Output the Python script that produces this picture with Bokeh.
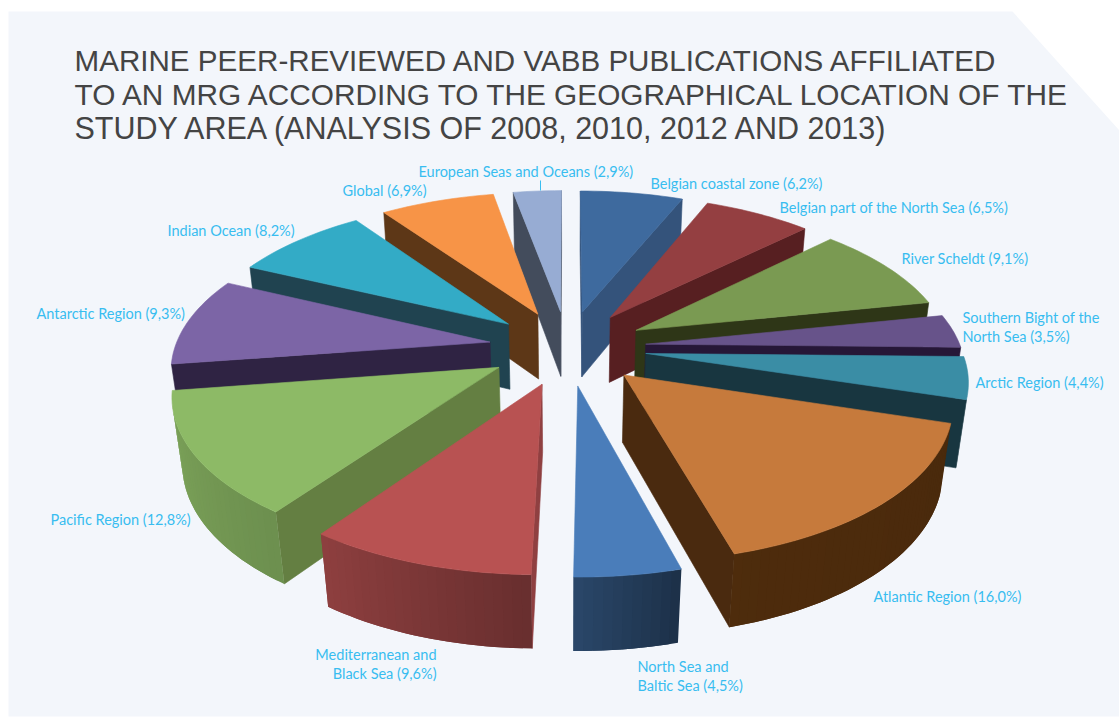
import numpy as np
from bokeh.plotting import figure
from bokeh.models import ColumnDataSource
from bokeh.core.properties import value
from bokeh.embed import file_html
from bokeh.resources import INLINE

# ---- data ----
title_lines = [
    "MARINE PEER-REVIEWED AND VABB PUBLICATIONS AFFILIATED",
    "TO AN MRG ACCORDING TO THE GEOGRAPHICAL LOCATION OF THE",
    "STUDY AREA (ANALYSIS OF 2008, 2010, 2012 AND 2013)",
]
regions = [
    "Belgian coastal zone", "Belgian part of the North Sea", "River Scheldt",
    "Southern Bight of the North Sea", "Arctic Region", "Atlantic Region",
    "North Sea and Baltic Sea", "Mediterranean and Black Sea", "Pacific Region",
    "Antarctic Region", "Indian Ocean", "Global", "European Seas and Oceans",
]
shares = [6.2, 6.5, 9.1, 3.5, 4.4, 16.0, 4.5, 9.6, 12.8, 9.3, 8.2, 6.9, 2.9]

# ---- styles ----
top_colors = ["#3E6A9E", "#943F41", "#7A9A52", "#67538A", "#3A8DA5", "#C67A3C", "#4A7DBA",
              "#B85252", "#8DBA66", "#7C65A6", "#33ABC6", "#F79447", "#97ACD3"]
side_colors = ["#34537B", "#571F21", "#2E3617", "#261737", "#183640", "#4A2A0F", "#2F4A70",
               "#8F4041", "#647F42", "#2F2343", "#204350", "#5D3717", "#434C5C"]
rim_colors = ["#3E6A9E", "#943F41", "#7A9A52", "#67538A", "#3A8DA5", "#C7701F", "#4A7DBA",
              "#B85252", "#8DBA66", "#7C65A6", "#33ABC6", "#F79447", "#97ACD3"]
title_sizes = ["29.6px", "29.8px", "30.5px"]
# label line breaks and anchors (page pixels: x, y, align)
label_layout = [
    (["{}"], 650, 183, "left"),
    (["{}"], 779, 207, "left"),
    (["{}"], 901, 258, "left"),
    (["Southern Bight of the", "North Sea ({})"], 962, 317, "left"),
    (["{}"], 975, 382, "left"),
    (["{}"], 873, 596, "left"),
    (["North Sea and", "Baltic Sea ({})"], 637, 666, "left"),
    (["Mediterranean and", "Black Sea ({})"], 436, 654, "right"),
    (["{}"], 50, 519, "left"),
    (["{}"], 36, 313, "left"),
    (["{}"], 167, 230, "left"),
    (["{}"], 342, 190, "left"),
    (["{}"], 418, 171, "left"),
]
LABEL_FONT = "Lato"
LABEL_SIZE = "14.5px"
LABEL_COLOR = "#38BDF0"
LINE_STEP = 19

# ---- 3-D camera ----
CX, CY = 567.0, 347.0
SX, A, B = 315.0, 186.6, 0.1886
EXPLODE, NORM = 0.25, 1.25
DELTA, H = 0.0256, 67.8


def project(X, Y, bottom=False):
    u = -Y / NORM
    w = 1 - B * u
    if bottom:
        d = w + DELTA
        return CX + SX * X / d, CY + (A * u + H) / d
    return CX + SX * X / w, CY + A * u / w


def shade(hex_color, f):
    rgb = [int(hex_color[i:i + 2], 16) for i in (1, 3, 5)]
    return "#%02X%02X%02X" % tuple(int(round(min(255, c * f))) for c in rgb)


def area(xs, ys):
    xs, ys = np.asarray(xs), np.asarray(ys)
    return 0.5 * np.sum(xs * np.roll(ys, -1) - np.roll(xs, -1) * ys)


def light(theta):
    return np.interp(theta, [107, 165, 180, 215, 261, 360], [0.37, 0.39, 0.56, 0.77, 0.88, 0.88])


fractions = np.array(shares) / sum(shares)
ends = np.cumsum(fractions) * 360
starts = ends - fractions * 360
order = np.argsort(-np.cos(np.radians((starts + ends) / 2)), kind="stable")

pxs, pys, cols, stroke = [], [], [], []


def add(xs, ys, c, la=1.0):
    pxs.append(list(map(float, xs)))
    pys.append(list(map(float, ys)))
    cols.append(c)
    stroke.append(la)


for i in order:
    a0, a1 = starts[i], ends[i]
    mid = np.radians((a0 + a1) / 2)
    ox, oy = EXPLODE * np.sin(mid), EXPLODE * np.cos(mid)
    th = np.linspace(a0, a1, max(3, int((a1 - a0) / 1.5) + 2))
    rad = np.radians(th)
    X = ox + np.sin(rad)
    Y = oy + np.cos(rad)

    tx, ty = project(np.r_[ox, X], np.r_[oy, Y])
    bx, by = project(np.r_[ox, X], np.r_[oy, Y], bottom=True)
    orient = np.sign(area(tx, ty))
    n = len(tx)
    # radial sides and rim: only the faces turned towards the camera
    for j0, j1, kind in [(0, 1, "s"), (n - 1, 0, "s")] + [(k, k + 1, "r") for k in range(1, n - 1)]:
        qx = [tx[j0], tx[j1], bx[j1], bx[j0]]
        qy = [ty[j0], ty[j1], by[j1], by[j0]]
        if np.sign(area(qx, qy)) == orient:
            continue
        if kind == "s":
            add(qx, qy, side_colors[i])
        else:
            # each rim strip runs under the next one, so that no seam shows
            j2 = min(j1 + 1, n - 1)
            ex = [tx[j0], tx[j1], tx[j2], bx[j2], bx[j1], bx[j0]]
            ey = [ty[j0], ty[j1], ty[j2], by[j2], by[j1], by[j0]]
            add(ex, ey, shade(rim_colors[i], light((th[j0 - 1] + th[j1 - 1]) / 2)), 0.0)
    add(tx, ty, top_colors[i])

# ---- figure in page pixels ----
p = figure(width=1119, height=718, x_range=(0, 1119), y_range=(718, 0),
           output_backend="svg", toolbar_location=None, min_border=0,
           background_fill_color="white", border_fill_color="white", outline_line_color=None)
p.axis.visible = False
p.grid.visible = False

p.patch([8, 1012, 1119, 1119, 8], [11, 11, 130, 716, 716], fill_color="#F3F6FB", line_color=None)

src = ColumnDataSource(dict(xs=pxs, ys=pys, c=cols, la=stroke))
p.patches("xs", "ys", source=src, fill_color="c", line_color="c", line_alpha="la", line_width=0.6)

# leader of the European Seas label
p.segment([540], [180], [540], [190], line_color=LABEL_COLOR, line_width=1)

# title
for k, (t, size) in enumerate(zip(title_lines, title_sizes)):
    p.text([74], [59.5 + 34 * k], text=[t], text_font=value("Liberation Sans"), text_font_size=size,
           text_color="#444444", text_baseline="alphabetic", text_align="left")

# labels
for name, v, (lines, x, y, al) in zip(regions, shares, label_layout):
    pct = f"{v:.1f}".replace(".", ",") + "%"
    for k, ln in enumerate(lines):
        s = f"{name} ({pct})" if ln == "{}" else ln.format(pct)
        p.text([x], [y + LINE_STEP * k], text=[s], text_font=value(LABEL_FONT), text_font_size=LABEL_SIZE,
               text_color=LABEL_COLOR, text_baseline="alphabetic", text_align=al)

open("out.html", "w").write(file_html(p, INLINE))
